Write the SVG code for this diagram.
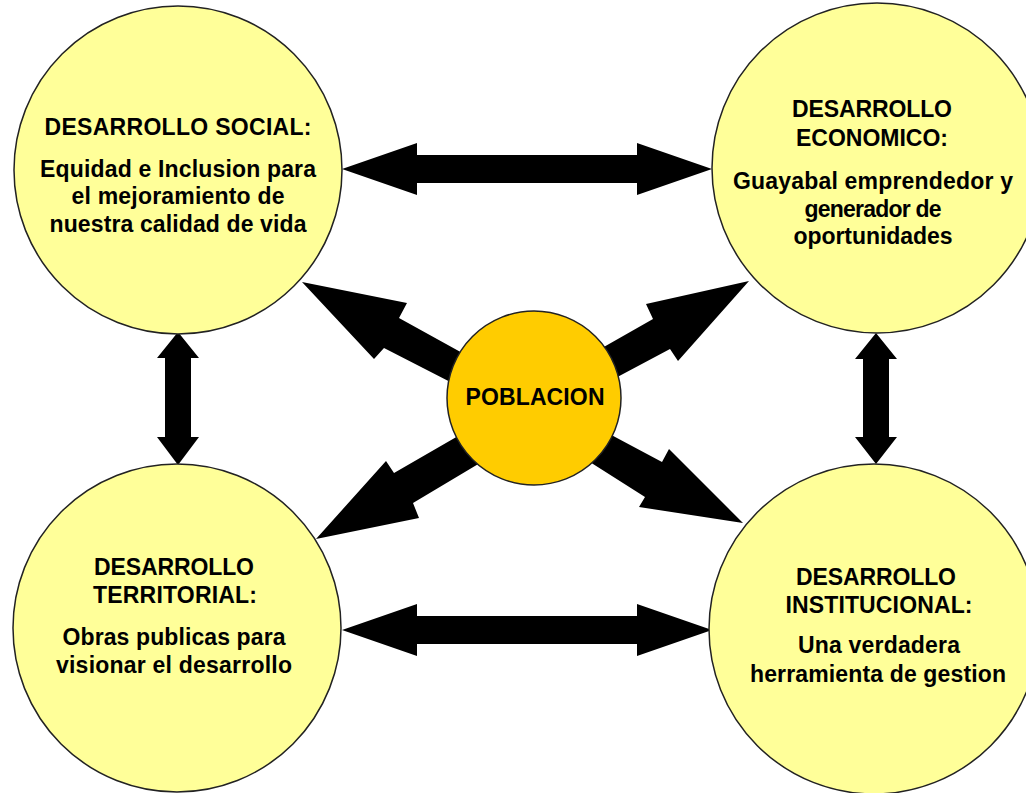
<svg xmlns="http://www.w3.org/2000/svg" width="1026" height="793" viewBox="0 0 1026 793">
<style>
.node{fill:#FFFF99;stroke:#222;stroke-width:1.5}
.center{fill:#FFCC00;stroke:#222;stroke-width:1.5}
.arrow{fill:#000;stroke:none}
text{font-family:"Liberation Sans",Arial,sans-serif;font-weight:bold;font-size:23px;fill:#000;text-anchor:middle}
</style>
<rect width="1026" height="793" fill="#fff"/>
<g id="connectors">
<polygon class="arrow" points="342,169 417,143 417,155 637,155 637,143 712,169 637,195 637,183 417,183 417,195"/>
<polygon class="arrow" points="342,630 417,604 417,616 637,616 637,604 712,630 637,656 637,644 417,644 417,656"/>
<polygon class="arrow" points="178,332 199,358 191,358 191,437 199,437 178,465 157,437 165,437 165,358 157,358"/>
<polygon class="arrow" points="876,333 897,359 889,359 889,437 897,437 876,464 855,437 863,437 863,359 855,359"/>
<polygon class="arrow" points="302,282 407,303 399,318 475,360 462,388 384,348 374,359"/>
<polygon class="arrow" points="749,281 646,304 653,319 595,352 608,382 670,349 678,361"/>
<polygon class="arrow" points="316,539 386,461 394,473 465,432 485,460 413,503 419,518"/>
<polygon class="arrow" points="743,523 669,449 662,462 602,430 582,457 645,497 639,507"/>
</g>
<g id="social">
<circle class="node" cx="178" cy="170" r="164"/>
<text x="178" y="135" textLength="267" lengthAdjust="spacing">DESARROLLO SOCIAL:</text>
<text x="178" y="177" textLength="276" lengthAdjust="spacing">Equidad e Inclusion para</text>
<text x="178" y="204" textLength="213" lengthAdjust="spacing">el mejoramiento de</text>
<text x="178" y="232" textLength="257" lengthAdjust="spacing">nuestra calidad de vida</text>
</g>
<g id="economico">
<circle class="node" cx="877" cy="168" r="165"/>
<text x="872" y="117" textLength="160" lengthAdjust="spacing">DESARROLLO</text>
<text x="872" y="146" textLength="152" lengthAdjust="spacing">ECONOMICO:</text>
<text x="873" y="189" textLength="280" lengthAdjust="spacing">Guayabal emprendedor y</text>
<text x="873" y="217" textLength="137" lengthAdjust="spacing">generador de</text>
<text x="873" y="244" textLength="159" lengthAdjust="spacing">oportunidades</text>
</g>
<g id="territorial">
<circle class="node" cx="177" cy="628" r="164"/>
<text x="174" y="575" textLength="160" lengthAdjust="spacing">DESARROLLO</text>
<text x="175" y="603" textLength="164" lengthAdjust="spacing">TERRITORIAL:</text>
<text x="174" y="645" textLength="223" lengthAdjust="spacing">Obras publicas para</text>
<text x="174" y="673" textLength="236" lengthAdjust="spacing">visionar el desarrollo</text>
</g>
<g id="institucional">
<circle class="node" cx="874" cy="629" r="165"/>
<text x="876" y="585" textLength="160" lengthAdjust="spacing">DESARROLLO</text>
<text x="879" y="613" textLength="187" lengthAdjust="spacing">INSTITUCIONAL:</text>
<text x="879" y="653" textLength="162" lengthAdjust="spacing">Una verdadera</text>
<text x="878" y="682" textLength="256" lengthAdjust="spacing">herramienta de gestion</text>
</g>
<g id="poblacion">
<circle class="center" cx="534" cy="398" r="87"/>
<text x="535" y="405" textLength="139" lengthAdjust="spacing">POBLACION</text>
</g>
</svg>
